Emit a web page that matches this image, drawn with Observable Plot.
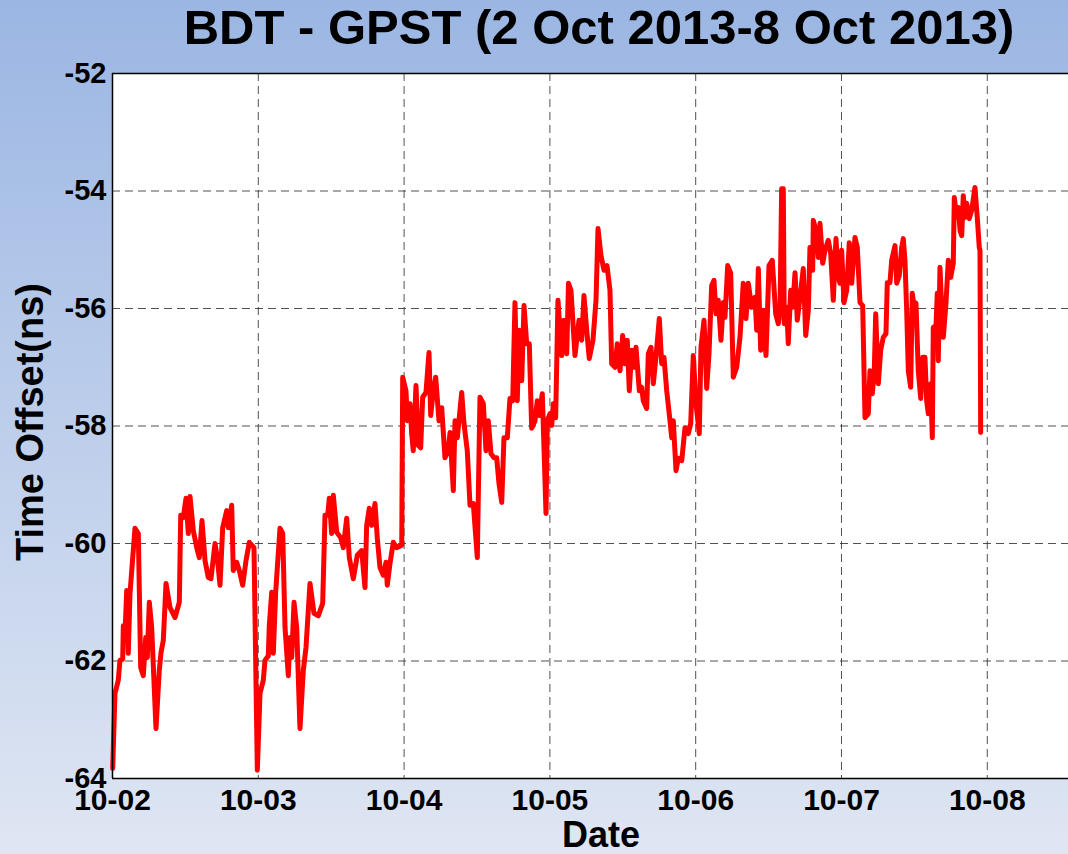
<!DOCTYPE html>
<html><head><meta charset="utf-8">
<script src="https://cdn.jsdelivr.net/npm/d3@7"></script>
<script src="https://cdn.jsdelivr.net/npm/@observablehq/plot@0.6"></script>
<style>
html,body{margin:0;padding:0;}
body{width:1068px;height:854px;overflow:hidden;background:linear-gradient(to bottom,#9bb6e3 0%,#dfe6f3 100%);font-family:"Liberation Sans",Arial,sans-serif;}
#wrap{position:relative;width:1068px;height:854px;}
#title{height:60px;position:relative;}
.t{position:absolute;white-space:nowrap;line-height:1;color:#000;font-weight:bold;font-family:"Liberation Sans",Arial,sans-serif;}
</style></head><body>
<div id="wrap">
<div id="title"><div class="t" style="font-size:49px;left:599px;top:3px;transform:translateX(-50%);">BDT - GPST (2 Oct 2013-8 Oct 2013)</div></div>
<div id="chart"></div>
<div class="t" style="font-size:38px;left:30px;top:422px;transform:translate(-50%,-50%) rotate(-90deg);">Time Offset(ns)</div>
<div class="t" style="font-size:36px;left:601px;top:817px;transform:translateX(-50%);">Date</div>
</div>
<script>
// hours since 2013-10-02 00:00 UTC
const hours = [0.03,0.41,0.95,1.23,1.68,1.78,2.06,2.34,2.60,2.88,3.70,4.25,4.64,5.07,5.47,5.73,6.06,6.45,7.16,7.70,7.98,8.36,8.81,9.47,10.29,11.00,11.23,11.65,12.10,12.48,12.76,13.30,13.86,14.29,14.73,15.23,15.77,16.21,16.87,17.25,17.70,18.14,18.80,19.06,19.62,19.88,20.44,20.87,21.43,21.98,22.52,23.29,
23.84,24.28,24.82,25.10,25.65,25.81,26.21,26.47,26.86,27.57,28.02,28.40,28.94,29.22,29.50,29.88,30.32,30.86,31.41,31.85,32.51,33.17,33.88,34.60,34.98,35.42,35.69,36.08,36.35,36.91,37.56,37.99,38.55,38.98,39.64,40.30,41.02,41.56,41.84,42.27,42.67,43.21,43.59,44.03,44.58,45.02,45.23,45.68,46.22,46.78,47.61,
47.77,48.31,48.53,48.97,49.25,49.51,49.96,50.34,50.73,51.06,51.60,52.10,52.38,52.81,53.20,53.74,54.19,54.73,55.27,55.56,56.10,56.38,56.76,57.48,57.86,58.40,58.85,59.39,60.05,60.49,61.04,61.48,61.86,62.30,62.80,63.24,63.62,64.07,64.44,64.99,65.43,65.88,66.25,66.63,66.96,67.36,67.74,68.18,68.61,69.00,69.55,69.92,70.25,70.75,71.08,71.36,71.57,72.02,72.30,72.56,72.95,
73.33,73.94,74.32,74.77,75.06,75.47,76.13,76.79,77.23,77.61,78.06,78.48,79.09,79.59,79.92,80.41,80.91,81.40,81.89,82.17,82.72,83.09,83.54,83.98,84.36,84.74,85.07,85.46,85.84,86.17,86.72,87.11,87.37,87.93,88.20,88.64,89.02,89.46,90.01,90.40,90.78,91.23,91.77,92.05,92.31,92.76,93.14,93.70,94.24,94.78,95.18,95.60,96.05,96.59,96.87,97.37,97.81,98.19,98.63,99.01,99.34,99.72,100.16,100.54,100.82,101.27,101.76,102.19,102.75,103.29,103.83,104.28,104.66,105.22,105.76,106.04,106.31,106.70,107.13,107.57,108.07,108.61,109.17,109.60,109.88,110.15,110.42,110.58,110.98,111.24,111.64,111.97,112.35,112.72,113.17,113.71,114.11,114.54,114.81,115.26,115.36,115.80,116.18,116.46,116.91,117.28,117.83,118.22,118.65,119.09,119.47,119.75,120.03,120.41,120.86,121.28,121.68,122.22,122.60,123.05,123.49,123.87,124.41,124.69,125.07,125.40,125.63,126.06,126.45,126.88,127.32,127.54,127.98,128.26,128.81,129.09,129.51,129.91,130.17,130.45,130.73,131.00,131.39,131.65,131.93,132.26,132.64,133.04,133.37,133.74,134.02,134.29,134.68,134.95,135.11,135.56,135.77,135.93,136.21,136.49,136.76,137.20,137.58,137.98,138.40,138.57,138.96,139.23,139.51,139.79,140.05,140.33,140.61,141.03,141.43,141.97,142.35,142.68,142.80,142.91];
// BDT - GPST offset, ns
const offsets = [-63.83,-62.55,-62.33,-61.99,-61.97,-61.40,-61.53,-60.80,-61.87,-60.85,-59.74,-59.83,-62.11,-62.25,-61.60,-61.94,-61.00,-61.43,-63.15,-62.16,-61.86,-61.65,-60.68,-61.09,-61.26,-61.00,-59.52,-59.56,-59.23,-59.83,-59.20,-59.78,-60.07,-60.24,-59.61,-60.29,-60.58,-60.60,-60.00,-60.24,-60.71,-59.73,-59.44,-59.73,-59.35,-60.46,-60.32,-60.46,-60.71,-60.29,-59.98,-60.07,
-63.86,-62.55,-62.33,-61.99,-61.91,-61.40,-60.83,-61.87,-60.83,-59.74,-59.83,-61.43,-62.25,-61.60,-61.94,-61.00,-61.43,-63.15,-62.16,-61.77,-60.68,-61.19,-61.23,-61.02,-59.52,-59.52,-59.23,-59.83,-59.18,-59.81,-59.90,-60.07,-59.57,-60.24,-60.60,-60.20,-60.12,-60.75,-59.69,-59.40,-59.69,-59.32,-59.91,-60.41,-60.54,-60.32,-60.71,-60.34,-59.98,-60.07,-60.03,
-57.17,-57.40,-57.91,-57.62,-58.13,-58.42,-57.31,-58.33,-58.37,-57.51,-57.43,-56.75,-57.82,-57.40,-57.17,-57.91,-57.69,-58.54,-58.42,-58.11,-59.10,-57.91,-58.20,-57.43,-57.96,-58.42,-59.35,-59.32,-60.24,-57.51,-57.62,-58.42,-57.91,-58.47,-58.54,-58.54,-58.98,-59.30,-58.20,-58.20,-57.53,-57.57,-55.90,-57.57,-56.37,-57.23,-55.95,-56.60,-56.60,-58.04,-57.91,-57.57,-57.82,-57.45,-58.54,-59.49,-57.91,-57.79,-57.99,-57.62,-57.86,
-55.86,-56.80,-56.20,-56.77,-55.57,-55.69,-56.80,-56.20,-56.54,-55.78,-56.37,-56.85,-56.54,-55.86,-54.64,-55.10,-55.35,-55.27,-55.69,-56.94,-57.00,-56.60,-57.06,-56.46,-56.94,-56.54,-57.40,-56.71,-57.00,-56.66,-57.40,-57.34,-57.57,-57.70,-56.77,-56.66,-57.28,-56.83,-56.17,-56.94,-56.83,-57.40,-57.91,-58.20,-57.91,-58.76,-58.55,-58.59,-58.03,-58.13,-57.96,-56.80,-57.62,-58.13,-56.66,-56.20,-57.36,-56.77,-55.61,-55.52,-56.09,-55.86,-56.54,-55.90,-56.15,-55.27,-55.40,-57.17,-57.00,-56.49,-55.57,-56.17,-55.57,-55.98,-55.81,-56.37,-55.32,-56.71,-56.03,-56.80,-55.27,-55.18,-56.09,-56.26,-56.03,-53.96,-53.96,-56.26,-55.98,-56.60,-55.69,-55.98,-55.39,-56.20,-55.81,-55.32,-56.46,-56.03,-54.96,-55.35,-54.50,-54.67,-55.13,-54.55,-55.23,-55.01,-54.84,-55.06,-55.86,-54.81,-55.47,-55.57,-55.01,-55.90,-55.69,-54.88,-55.57,-54.79,-54.96,-55.90,-55.95,-57.86,-57.79,-57.06,-57.45,-57.06,-56.09,-57.28,-56.71,-56.49,-56.43,-55.56,-55.56,-55.18,-54.93,-55.57,-55.44,-54.96,-54.81,-55.18,-56.03,-57.06,-57.34,-55.74,-55.95,-55.91,-57.06,-57.53,-56.83,-56.83,-57.57,-57.79,-57.28,-58.20,-56.32,-56.29,-55.74,-56.89,-55.30,-55.98,-56.49,-55.91,-55.18,-55.47,-55.23,-54.11,-54.45,-54.28,-54.67,-54.76,-54.08,-54.45,-54.21,-54.47,-54.33,-53.94,-54.45,-54.96,-55.01,-58.11];

const tickDays = ["2013-10-02","2013-10-03","2013-10-04","2013-10-05","2013-10-06","2013-10-07","2013-10-08"];
const yTicks = [-64,-62,-60,-58,-56,-54,-52];
const xStartDay = "2013-10-02";
const xEndDays = 6.557; // visible span of the time axis, days

const start = new Date(xStartDay + "T00:00:00Z");
const tickDates = tickDays.map(d => new Date(d + "T00:00:00Z"));
const xEnd = new Date(+start + xEndDays * 864e5);
const data = hours.map((h, i) => ({t: new Date(+start + h * 3600e3), v: offsets[i]}));

const font = "Liberation Sans, Arial, sans-serif";
const chart = Plot.plot({
  width: 1068, height: 794,
  marginLeft: 112, marginRight: 0, marginTop: 13, marginBottom: 76,
  style: {background: "transparent", fontFamily: font, fontWeight: "bold", overflow: "visible", color: "#000"},
  x: {type: "utc", domain: [start, xEnd]},
  y: {domain: [-64, -52]},
  marks: [
    Plot.frame({fill: "white", stroke: null}),
    Plot.gridX(tickDates, {stroke: "#333", strokeOpacity: 0.85, strokeWidth: 1, strokeDasharray: "8,5"}),
    Plot.gridY(yTicks, {stroke: "#333", strokeOpacity: 0.85, strokeWidth: 1, strokeDasharray: "8,5"}),
    Plot.line(data, {x: "t", y: "v", stroke: "#ff0000", strokeWidth: 5, strokeLinejoin: "round", strokeLinecap: "round"}),
    Plot.ruleX([start], {stroke: "#000", strokeWidth: 1.5}),
    Plot.ruleY([-64, -52], {stroke: "#000", strokeWidth: 1.5}),
    Plot.axisY(yTicks, {tickSize: 0, tickPadding: 6, fontSize: 29, fontWeight: "bold", tickFormat: d => String(d), label: null}),
    Plot.axisX(tickDates, {tickSize: 0, tickPadding: 10, fontSize: 30, fontWeight: "bold", tickFormat: d3.utcFormat("%m-%d"), label: null})
  ]
});
document.getElementById("chart").appendChild(chart);
</script>
</body></html>
